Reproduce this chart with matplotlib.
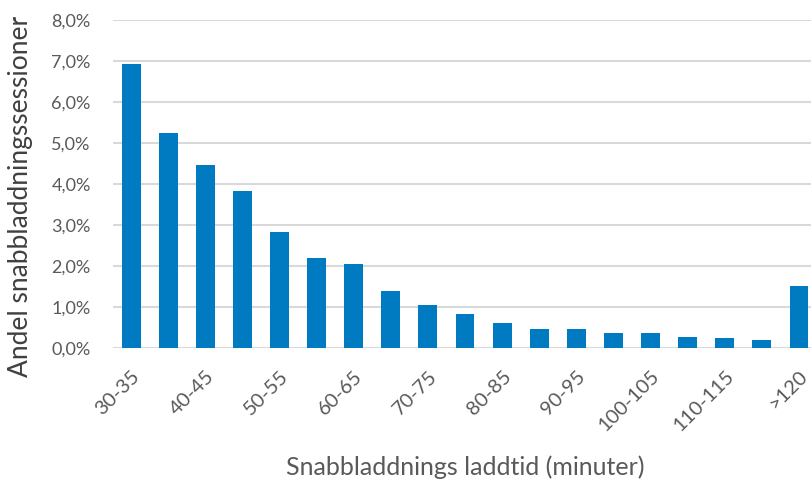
import matplotlib.pyplot as plt
from matplotlib.ticker import FuncFormatter

# Andel snabbladdningssessioner per laddtid (%)
categories = ["30-35", "35-40", "40-45", "45-50", "50-55", "55-60", "60-65",
              "65-70", "70-75", "75-80", "80-85", "85-90", "90-95", "95-100",
              "100-105", "105-110", "110-115", "115-120", ">120"]
shares = [6.93, 5.24, 4.46, 3.83, 2.83, 2.20, 2.05, 1.39, 1.05, 0.83,
          0.61, 0.46, 0.46, 0.36, 0.36, 0.27, 0.24, 0.20, 1.51]

plt.rcParams['font.family'] = ['Lato', 'DejaVu Sans']

fig = plt.figure(figsize=(8.12, 4.82), dpi=100)
ax = fig.add_axes([0.139, 0.278, 0.861, 0.681])

x = list(range(len(categories)))
ax.bar(x, shares, width=0.51, color="#007BC2", zorder=3)

ax.set_ylim(0, 8)
ax.set_xlim(-0.49, len(categories) - 0.65)
ax.set_yticks(range(0, 9))
ax.yaxis.set_major_formatter(FuncFormatter(lambda v, p: f"{v:.1f}%".replace(".", ",")))
ax.grid(axis="y", color="#D9D9D9", linewidth=1.5, zorder=0)

ax.set_xticks(x[::2])
ax.set_xticklabels(categories[::2], rotation=45, ha="right", rotation_mode="anchor")

for s in ax.spines.values():
    s.set_visible(False)
ax.tick_params(axis="both", length=0, colors="#595959")
ax.tick_params(axis="x", pad=14, labelsize=14.5)
ax.tick_params(axis="y", pad=16, labelsize=13)

ax.set_ylabel("Andel snabbladdningssessioner", fontsize=19, color="#404040")
ax.yaxis.set_label_coords(-0.114, 0.463)
ax.set_xlabel("Snabbladdnings laddtid (minuter)", fontsize=18, color="#595959")
ax.xaxis.set_label_coords(0.504, -0.326)

plt.savefig("out.png", dpi=100)
